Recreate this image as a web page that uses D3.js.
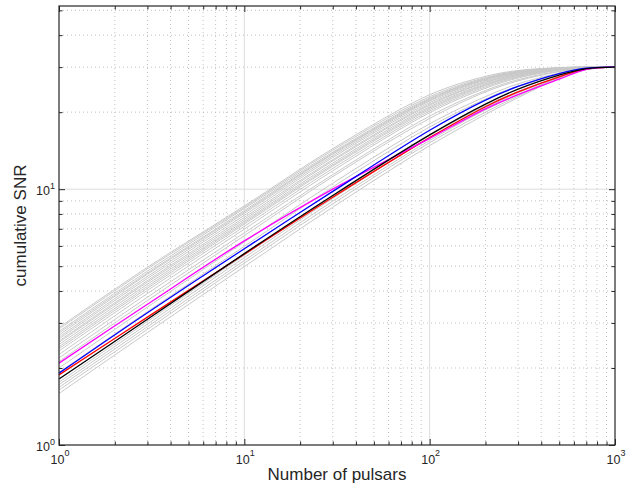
<!DOCTYPE html>
<html>
<head>
<meta charset="utf-8">
<script src="https://cdn.jsdelivr.net/npm/d3@7"></script>
<style>
body { margin: 0; background: #fff; }
svg { display: block; font-family: "Liberation Sans", Arial, sans-serif; }
</style>
</head>
<body>
<script>
const nPulsars = [1, 3, 10, 30, 100, 200, 300, 500, 700, 1000]

// highlighted curves
const snrBlack   = [1.81, 3.10, 5.60, 9.45, 16.3, 21.5, 24.6, 27.9, 29.6, 30]
const snrBlue    = [1.91, 3.29, 5.85, 9.80, 17.0, 22.3, 25.2, 28.3, 29.7, 30]
const snrRed     = [1.88, 3.16, 5.57, 9.30, 15.9, 21.0, 24.0, 27.5, 29.5, 30]
const snrMagenta = [2.09, 3.55, 6.28, 10.0, 15.8, 20.6, 23.4, 26.9, 29.4, 30]

// grey background curves
const snrGrey = [
  [2.88, 4.95, 8.60, 14.4, 23.4, 27.6, 29.1, 29.85, 30, 30],
  [2.84, 4.88, 8.50, 14.2, 23.0, 27.3, 28.9, 29.8, 30, 30],
  [2.78, 4.78, 8.40, 13.95, 22.7, 27.1, 28.8, 29.8, 30, 30],
  [2.74, 4.70, 8.25, 13.8, 22.5, 27.0, 28.7, 29.75, 30, 30],
  [2.69, 4.65, 8.15, 13.7, 22.3, 26.9, 28.65, 29.75, 30, 30],
  [2.64, 4.56, 8.05, 13.5, 22.1, 26.7, 28.5, 29.7, 29.95, 30],
  [2.60, 4.48, 7.90, 13.3, 21.8, 26.45, 28.4, 29.65, 29.95, 30],
  [2.55, 4.39, 7.75, 13.05, 21.5, 26.2, 28.2, 29.6, 29.9, 30],
  [2.52, 4.33, 7.62, 12.9, 21.3, 26.1, 28.1, 29.55, 29.9, 30],
  [2.47, 4.25, 7.50, 12.65, 21.0, 25.8, 27.9, 29.5, 29.9, 30],
  [2.42, 4.17, 7.40, 12.45, 20.75, 25.6, 27.8, 29.4, 29.85, 30],
  [2.38, 4.10, 7.30, 12.3, 20.5, 25.4, 27.6, 29.35, 29.85, 30],
  [2.33, 4.02, 7.15, 12.05, 20.2, 25.1, 27.4, 29.25, 29.8, 30],
  [2.26, 3.91, 6.98, 11.8, 19.9, 24.8, 27.2, 29.15, 29.8, 30],
  [2.19, 3.78, 6.75, 11.4, 19.3, 24.3, 26.8, 28.9, 29.7, 30],
  [2.12, 3.67, 6.58, 11.2, 18.9, 24.0, 26.5, 28.8, 29.7, 30],
  [2.00, 3.46, 6.22, 10.55, 18.0, 23.0, 25.8, 28.4, 29.6, 30],
  [1.92, 3.32, 5.98, 10.2, 17.5, 22.5, 25.3, 28.1, 29.55, 30],
  [1.76, 3.04, 5.52, 9.40, 16.2, 21.2, 24.1, 27.5, 29.45, 30],
  [1.72, 2.97, 5.40, 9.20, 15.9, 20.8, 23.8, 27.4, 29.4, 30],
  [1.68, 2.90, 5.26, 8.98, 15.5, 20.4, 23.4, 27.3, 29.4, 30],
  [1.64, 2.83, 5.14, 8.76, 15.2, 20.0, 23.1, 27.2, 29.35, 30],
  [1.59, 2.75, 4.98, 8.50, 14.8, 19.6, 22.8, 27.1, 29.3, 30]
]

// axis ticks
const xMajor = [1, 10, 100, 1000]
const xExp = ["0", "1", "2", "3"]
const xMinor = [2, 3, 4, 5, 6, 7, 8, 9, 20, 30, 40, 50, 60, 70, 80, 90, 200, 300, 400, 500, 600, 700, 800, 900]
const yMajor = [1, 10]
const yExp = ["0", "1"]
const yMinor = [2, 3, 4, 5, 6, 7, 8, 9, 20, 30, 40, 50]

const width = 631, height = 483
const margin = {top: 6, right: 16, bottom: 38, left: 59}
const axisColor = "#262626"

const x = d3.scaleLog().domain([1, 1000]).range([margin.left, width - margin.right])
const y = d3.scaleLog().domain([1, 52]).range([height - margin.bottom, margin.top])
const [x0, x1] = x.range(), [y0, y1] = y.range()

const svg = d3.select("body").append("svg")
    .attr("width", width)
    .attr("height", height)

// grid: solid for decades, dotted for the minor ones
const grid = svg.append("g").attr("fill", "none")
grid.append("g")
    .attr("stroke", "#bababa")
    .attr("stroke-width", 0.9)
    .attr("stroke-dasharray", "1,3")
  .call(g => g.selectAll(".vx").data(xMinor).join("line")
      .attr("x1", d => x(d)).attr("x2", d => x(d)).attr("y1", y0).attr("y2", y1))
  .call(g => g.selectAll(".hy").data(yMinor).join("line")
      .attr("y1", d => y(d)).attr("y2", d => y(d)).attr("x1", x0).attr("x2", x1))
grid.append("g")
    .attr("stroke", "#dcdcdc")
    .attr("stroke-width", 1)
  .call(g => g.selectAll(".vx").data(xMajor.slice(1, -1)).join("line")
      .attr("x1", d => x(d)).attr("x2", d => x(d)).attr("y1", y0).attr("y2", y1))
  .call(g => g.selectAll(".hy").data(yMajor.slice(1)).join("line")
      .attr("y1", d => y(d)).attr("y2", d => y(d)).attr("x1", x0).attr("x2", x1))

// curves
const line = d3.line()
    .x((d, i) => x(nPulsars[i]))
    .y(d => y(d))
    .curve(d3.curveCatmullRom.alpha(0.5))

svg.append("g")
    .attr("fill", "none")
    .attr("stroke", "#c8c8c8")
    .attr("stroke-width", 1)
  .selectAll("path")
  .data(snrGrey)
  .join("path")
    .attr("d", line)

const coloured = [
  {values: snrRed, color: "#ff0000"},
  {values: snrMagenta, color: "#ff00ff"},
  {values: snrBlue, color: "#0000ff"},
  {values: snrBlack, color: "#000000"}
]
svg.append("g")
    .attr("fill", "none")
    .attr("stroke-width", 1.3)
  .selectAll("path")
  .data(coloured)
  .join("path")
    .attr("stroke", d => d.color)
    .attr("d", d => line(d.values))

// box with inward ticks on all four sides
const tickAxes = [
  [d3.axisBottom(x), `translate(0,${y0})`],
  [d3.axisTop(x), `translate(0,${y1})`],
  [d3.axisLeft(y), `translate(${x0},0)`],
  [d3.axisRight(y), `translate(${x1},0)`]
]
tickAxes.forEach(([ax, tr], k) => {
  const major = k < 2 ? xMajor : yMajor
  const minor = k < 2 ? xMinor : yMinor
  const sign = (k === 0 || k === 3) ? -1 : 1
  svg.append("g").attr("transform", tr)
      .call(ax.tickValues(major.concat(minor)).tickFormat("")
          .tickSizeInner(0).tickSizeOuter(0))
      .call(g => g.select(".domain").remove())
      .call(g => g.selectAll(".tick line")
          .attr("stroke", axisColor)
          .each(function (d) {
            const len = sign * (major.includes(d) ? 6 : 3.5)
            d3.select(this).attr(k < 2 ? "y2" : "x2", len)
          }))
})
svg.append("rect")
    .attr("x", x0).attr("y", y1)
    .attr("width", x1 - x0).attr("height", y0 - y1)
    .attr("fill", "none")
    .attr("stroke", axisColor)
    .attr("stroke-width", 1.2)

// tick labels as 10^n
const xLab = svg.append("g")
    .attr("fill", axisColor)
    .attr("font-size", 12.5)
    .attr("text-anchor", "middle")
  .selectAll("text")
  .data(xMajor)
  .join("text")
    .attr("x", d => x(d) + 1)
    .attr("y", y0 + 19)
xLab.append("tspan").text("10")
xLab.append("tspan").attr("font-size", 9).attr("dy", -8).text((d, i) => xExp[i])

const yLab = svg.append("g")
    .attr("fill", axisColor)
    .attr("font-size", 12.5)
    .attr("text-anchor", "end")
  .selectAll("text")
  .data(yMajor)
  .join("text")
    .attr("x", x0 - 4)
    .attr("y", d => y(d) + 6)
yLab.append("tspan").text("10")
yLab.append("tspan").attr("font-size", 9).attr("dy", -6).text((d, i) => yExp[i])

// axis titles
svg.append("text")
    .attr("x", (x0 + x1) / 2)
    .attr("y", 480)
    .attr("text-anchor", "middle")
    .attr("font-size", 17)
    .attr("fill", axisColor)
    .text("Number of pulsars")

svg.append("text")
    .attr("transform", `translate(26,${(y0 + y1) / 2}) rotate(-90)`)
    .attr("text-anchor", "middle")
    .attr("font-size", 17)
    .attr("fill", axisColor)
    .text("cumulative SNR")
</script>
</body>
</html>
